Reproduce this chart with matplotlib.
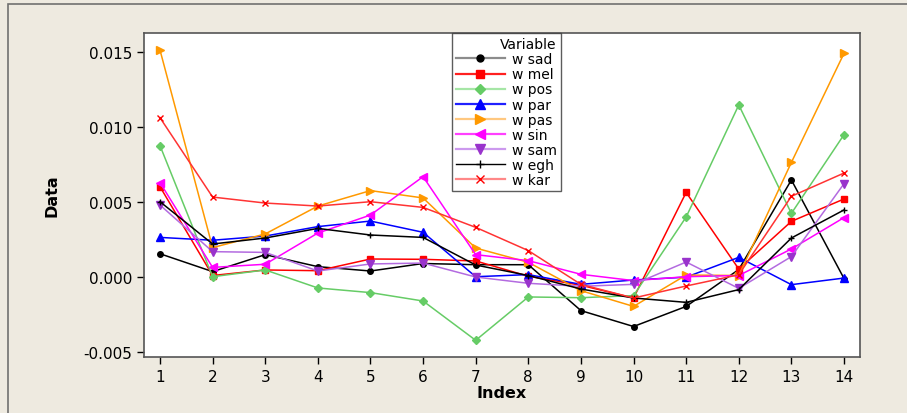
import matplotlib
matplotlib.use('Agg')
import matplotlib.pyplot as plt
from matplotlib.patches import Rectangle
from matplotlib.lines import Line2D

# 数据
index = list(range(1, 15))
w_sad = [0.00155, 0.00036, 0.00149, 0.00069, 0.00040, 0.00090, 0.00082, 0.00082, -0.00224, -0.00330, -0.00196, 0.00050, 0.00647, -0.00010]
w_mel = [0.00602, 0.00010, 0.00047, 0.00042, 0.00120, 0.00118, 0.00107, 0.00005, -0.00055, -0.00140, 0.00564, 0.00053, 0.00371, 0.00520]
w_pos = [0.00876, 0.00002, 0.00047, -0.00073, -0.00104, -0.00160, -0.00422, -0.00133, -0.00138, -0.00124, 0.00400, 0.01147, 0.00424, 0.00949]
w_par = [0.00264, 0.00245, 0.00273, 0.00336, 0.00373, 0.00298, 0.00002, 0.00016, -0.00049, -0.00020, -0.00001, 0.00131, -0.00051, -0.00007]
w_pas = [0.01513, 0.00196, 0.00287, 0.00473, 0.00576, 0.00527, 0.00193, 0.00098, -0.00091, -0.00196, 0.00013, 0.00010, 0.00764, 0.01491]
w_sin = [0.00629, 0.00064, 0.00085, 0.00293, 0.00413, 0.00669, 0.00149, 0.00109, 0.00018, -0.00024, 0.00002, 0.00010, 0.00187, 0.00396]
w_sam = [0.00480, 0.00169, 0.00164, 0.00040, 0.00087, 0.00093, 0.00000, -0.00042, -0.00062, -0.00049, 0.00100, -0.00076, 0.00136, 0.00622]
w_egh = [0.00502, 0.00220, 0.00260, 0.00324, 0.00280, 0.00264, 0.00080, 0.00010, -0.00080, -0.00140, -0.00169, -0.00084, 0.00260, 0.00447]
w_kar = [0.01062, 0.00533, 0.00493, 0.00473, 0.00502, 0.00464, 0.00331, 0.00176, -0.00049, -0.00140, -0.00060, 0.00015, 0.00538, 0.00693]

# 名称, 数据, 线色, 标记色, 图例线色, 标记, 大小
series = [
    ("w sad", w_sad, "#000000", "#000000", "#8C8C8C", "o", 4),
    ("w mel", w_mel, "#FF0000", "#FF0000", "#FF2020", "s", 5),
    ("w pos", w_pos, "#66CC66", "#66CC66", "#A6E6A6", "D", 4.5),
    ("w par", w_par, "#0000FF", "#0000FF", "#2020FF", "^", 6),
    ("w pas", w_pas, "#FF9900", "#FF9900", "#FFC880", ">", 6),
    ("w sin", w_sin, "#FF00FF", "#FF00FF", "#FF40FF", "<", 6),
    ("w sam", w_sam, "#B36BE0", "#9933CC", "#CC99EE", "v", 6),
    ("w egh", w_egh, "#000000", "#000000", "#000000", "+", 5),
    ("w kar", w_kar, "#FF3333", "#FF0000", "#FF8888", "x", 5),
]

bg = "#EEEAE0"
fig = plt.figure(figsize=(9.07, 4.14), dpi=100, facecolor=bg)
W, H = 907, 414

# 外框
fig.patches.append(Rectangle((8 / W, -0.1), 1.2, 1 - 5 / H + 0.1, transform=fig.transFigure,
                             fill=False, edgecolor="#707070", linewidth=1.2))

ax = fig.add_axes([144 / W, 1 - 358 / H, (860 - 144) / W, (358 - 34) / H])
ax.set_facecolor("white")

handles = []
for name, vals, lc, mc, hc, mk, ms in series:
    ax.plot(index, vals, color=lc, linewidth=1.1, marker=mk, markersize=ms,
            markerfacecolor=mc, markeredgecolor=mc, markeredgewidth=1.0)
    lw = 1.0 if name == "w egh" else 1.6
    handles.append(Line2D([], [], color=hc, linewidth=lw, marker=mk, markersize=ms + 1,
                          markerfacecolor=mc, markeredgecolor=mc, label=name))

ax.set_xlim(0.696, 14.304)
ax.set_ylim(-0.005333, 0.016267)
ax.set_xticks(index)
ax.set_yticks([-0.005, 0.0, 0.005, 0.010, 0.015])
ax.set_yticklabels(["-0.005", "0.000", "0.005", "0.010", "0.015"])
ax.tick_params(axis="both", direction="out", length=5, width=1, labelsize=11, colors="black")
for s in ax.spines.values():
    s.set_color("#555555")
    s.set_linewidth(1.2)

ax.set_xlabel("Index", fontsize=11.5, fontweight="bold", labelpad=1)
ax.set_ylabel("Data", fontsize=11.5, fontweight="bold", labelpad=17,
              family=["Liberation Sans Narrow", "DejaVu Sans"])

leg = ax.legend(handles=handles, title="Variable", loc="upper left",
                bbox_to_anchor=((452 - 144) / (860 - 144), 1.0),
                fontsize=10, title_fontsize=10, frameon=True, fancybox=False,
                handlelength=3.5, handletextpad=0.5, borderpad=0.3, labelspacing=0.08,
                borderaxespad=0)
leg.get_frame().set_edgecolor("#333333")
leg.get_frame().set_linewidth(1.0)
leg._legend_box.align = "right"

fig.savefig("out.png", dpi=100, facecolor=bg)
